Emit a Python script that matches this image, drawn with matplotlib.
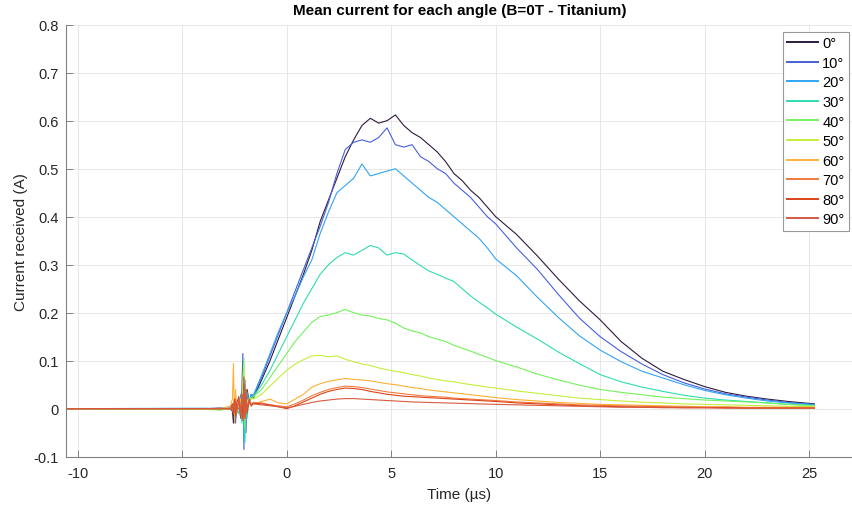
import numpy as np
import matplotlib.pyplot as plt

plt.rcParams['font.family'] = ['Liberation Sans', 'DejaVu Sans']
plt.rcParams['axes.unicode_minus'] = False

# time axis (µs), shared by every angle
t_us = [-10.58, -3.9, -3.2, -2.7,
        -2.6, -2.55, -2.5, -2.45, -2.4, -2.3, -2.2, -2.15, -2.1, -2.05, -2.0, -1.95, -1.9, -1.8, -1.7, -1.6,
        -1.2, -0.8, -0.4, 0.0, 0.4, 0.8, 1.2, 1.6, 2.0, 2.4, 2.8, 3.2, 3.6, 4.0, 4.4, 4.8, 5.2, 5.6, 6.0,
        6.4, 6.8, 7.2, 7.6, 8.0, 8.4, 8.8, 9.2, 9.6, 10.0,
        11, 12, 13, 14, 15, 16, 17, 18, 19, 20, 21, 22, 23, 24, 25.25]

angles = ['0°', '10°', '20°', '30°', '40°', '50°', '60°', '70°', '80°', '90°']
colors = ['#2f1a3d', '#4660dc', '#32a4f4', '#2fdcb0', '#74f25c',
          '#c4ee3c', '#fbb134', '#f07a3c', '#dd4318', '#d65a40']

# mean current (A)
cur_0 = [0.0, 0.0, 0.001, 0.0,
         -0.005, -0.03, 0.01, -0.02, 0.005, 0.0, 0.02, -0.01, 0.05, -0.04, 0.03, -0.01, 0.04, 0.015, 0.025, 0.022,
         0.06, 0.10, 0.145, 0.19, 0.235, 0.28, 0.33, 0.39, 0.435, 0.48, 0.525, 0.56, 0.59, 0.605, 0.595, 0.60, 0.612, 0.59, 0.575,
         0.565, 0.55, 0.535, 0.515, 0.49, 0.475, 0.455, 0.44, 0.42, 0.40,
         0.363, 0.318, 0.27, 0.225, 0.185, 0.14, 0.105, 0.078, 0.061, 0.046, 0.034, 0.026, 0.02, 0.015, 0.01]
cur_10 = [0.0, 0.0, 0.001, 0.0,
          0.005, -0.01, 0.02, -0.03, 0.01, 0.005, -0.02, 0.04, 0.115, -0.085, 0.06, -0.05, 0.03, 0.01, 0.03, 0.025,
          0.065, 0.11, 0.155, 0.2, 0.245, 0.29, 0.335, 0.38, 0.43, 0.49, 0.54, 0.555, 0.56, 0.555, 0.565, 0.585, 0.55, 0.545, 0.55,
          0.525, 0.515, 0.5, 0.49, 0.47, 0.455, 0.44, 0.42, 0.40, 0.385,
          0.335, 0.29, 0.238, 0.189, 0.15, 0.119, 0.093, 0.071, 0.054, 0.041, 0.031, 0.024, 0.018, 0.013, 0.009]
cur_20 = [0.0, 0.001, 0.0, 0.002,
          0.0, 0.01, -0.01, 0.02, -0.01, 0.01, 0.03, -0.02, 0.07, -0.06, 0.04, -0.03, 0.035, 0.015, 0.03, 0.028,
          0.07, 0.115, 0.16, 0.2, 0.235, 0.275, 0.31, 0.365, 0.41, 0.45, 0.465, 0.48, 0.51, 0.485, 0.49, 0.495, 0.50, 0.485, 0.47,
          0.455, 0.44, 0.43, 0.415, 0.40, 0.385, 0.37, 0.355, 0.335, 0.312,
          0.277, 0.232, 0.19, 0.152, 0.122, 0.098, 0.078, 0.064, 0.05, 0.038, 0.029, 0.022, 0.016, 0.012, 0.008]
cur_30 = [0.0, 0.0, -0.002, 0.0,
          0.0, 0.005, -0.01, 0.01, 0.0, -0.01, 0.02, -0.03, 0.04, -0.02, -0.07, 0.03, -0.02, 0.02, 0.025, 0.025,
          0.05, 0.08, 0.115, 0.15, 0.185, 0.22, 0.25, 0.28, 0.30, 0.315, 0.325, 0.32, 0.33, 0.34, 0.335, 0.32, 0.325, 0.322, 0.31,
          0.298, 0.287, 0.28, 0.272, 0.265, 0.25, 0.235, 0.222, 0.21, 0.197,
          0.17, 0.145, 0.118, 0.094, 0.071, 0.056, 0.045, 0.036, 0.028, 0.022, 0.018, 0.015, 0.012, 0.009, 0.007]
cur_40 = [0.0, -0.001, -0.003, 0.0,
          0.0, 0.005, 0.0, 0.01, -0.005, 0.01, 0.0, 0.02, 0.06, 0.105, -0.04, 0.04, 0.0, 0.02, 0.02, 0.025,
          0.04, 0.065, 0.09, 0.115, 0.14, 0.16, 0.18, 0.192, 0.195, 0.2, 0.207, 0.2, 0.195, 0.193, 0.188, 0.185, 0.178, 0.168, 0.162,
          0.158, 0.15, 0.145, 0.14, 0.132, 0.126, 0.12, 0.113, 0.107, 0.1,
          0.087, 0.072, 0.06, 0.049, 0.04, 0.034, 0.029, 0.024, 0.021, 0.018, 0.016, 0.014, 0.012, 0.009, 0.006]
cur_50 = [0.0, 0.0, 0.0, 0.0,
          0.01, -0.01, 0.02, 0.0, -0.01, 0.01, 0.02, 0.0, 0.03, 0.09, -0.02, 0.03, 0.015, 0.02, 0.022, 0.02,
          0.03, 0.047, 0.064, 0.08, 0.093, 0.102, 0.11, 0.111, 0.108, 0.11, 0.103, 0.098, 0.093, 0.09, 0.085, 0.081, 0.078, 0.075, 0.071,
          0.068, 0.064, 0.061, 0.058, 0.056, 0.053, 0.05, 0.048, 0.045, 0.043,
          0.037, 0.032, 0.027, 0.022, 0.019, 0.016, 0.0135, 0.012, 0.01, 0.009, 0.008, 0.007, 0.006, 0.005, 0.004]
cur_60 = [0.0, 0.0, 0.0, 0.005,
          0.02, 0.094, -0.03, 0.04, 0.0, 0.01, -0.01, 0.02, 0.0, 0.03, -0.01, 0.02, 0.005, 0.01, 0.012, 0.01,
          0.015, 0.02, 0.012, 0.01, 0.02, 0.03, 0.045, 0.052, 0.057, 0.06, 0.063, 0.061, 0.06, 0.058, 0.055, 0.052, 0.05, 0.047, 0.044,
          0.042, 0.039, 0.037, 0.035, 0.033, 0.031, 0.029, 0.027, 0.025, 0.023,
          0.019, 0.016, 0.013, 0.011, 0.009, 0.008, 0.007, 0.006, 0.005, 0.004, 0.004, 0.003, 0.003, 0.003, 0.003]
cur_70 = [0.0, 0.0, 0.0, 0.0,
          0.0, 0.01, -0.01, 0.02, 0.0, 0.01, 0.0, 0.03, -0.02, 0.05, -0.02, 0.02, 0.0, 0.012, 0.01, 0.012,
          0.012, 0.008, 0.006, 0.004, 0.01, 0.018, 0.027, 0.034, 0.04, 0.044, 0.047, 0.046, 0.044, 0.041, 0.038, 0.035, 0.033, 0.031, 0.029,
          0.027, 0.026, 0.025, 0.024, 0.022, 0.021, 0.02, 0.019, 0.018, 0.017,
          0.014, 0.012, 0.01, 0.008, 0.007, 0.006, 0.005, 0.004, 0.004, 0.003, 0.003, 0.002, 0.002, 0.002, 0.002]
cur_80 = [0.0, 0.0, 0.0, 0.0,
          0.01, -0.01, 0.02, -0.015, 0.01, 0.025, -0.02, 0.03, -0.025, 0.066, -0.02, 0.04, -0.01, 0.02, 0.005, 0.012,
          0.01, 0.008, 0.004, 0.0, 0.006, 0.014, 0.022, 0.03, 0.036, 0.04, 0.043, 0.042, 0.04, 0.036, 0.033, 0.03, 0.028, 0.026, 0.025,
          0.024, 0.023, 0.022, 0.021, 0.02, 0.019, 0.018, 0.017, 0.016, 0.015,
          0.012, 0.01, 0.008, 0.006, 0.005, 0.004, 0.003, 0.003, 0.002, 0.002, 0.002, 0.001, 0.001, 0.001, 0.001]
cur_90 = [0.0, 0.0, 0.0, 0.0,
          0.0, 0.01, -0.005, 0.015, -0.01, 0.02, -0.01, 0.025, 0.0, 0.04, -0.015, 0.03, 0.0, 0.015, 0.008, 0.01,
          0.008, 0.006, 0.004, 0.002, 0.005, 0.009, 0.013, 0.016, 0.018, 0.02, 0.021, 0.021, 0.02, 0.019, 0.018, 0.017, 0.016, 0.015, 0.014,
          0.0135, 0.013, 0.0125, 0.012, 0.0115, 0.011, 0.0105, 0.01, 0.0095, 0.009,
          0.008, 0.007, 0.006, 0.005, 0.004, 0.003, 0.003, 0.002, 0.002, 0.002, 0.001, 0.001, 0.001, 0.001, 0.001]

curves = [cur_0, cur_10, cur_20, cur_30, cur_40, cur_50, cur_60, cur_70, cur_80, cur_90]

x_ticks = [-10, -5, 0, 5, 10, 15, 20, 25]
y_ticks = [-0.1, 0, 0.1, 0.2, 0.3, 0.4, 0.5, 0.6, 0.7, 0.8]
y_ticklabels = ['-0.1', '0', '0.1', '0.2', '0.3', '0.4', '0.5', '0.6', '0.7', '0.8']

fig = plt.figure(figsize=(8.53, 5.06), dpi=100)
ax = fig.add_axes([0.077, 0.0955, 0.923, 0.8537])

for cur, lab, col in zip(curves, angles, colors):
    ax.plot(t_us, cur, color=col, lw=0.8, label=lab)

ax.set_xlim(-10.58, 27.1)
ax.set_ylim(-0.1, 0.8)
ax.set_xticks(x_ticks)
ax.set_yticks(y_ticks)
ax.set_yticklabels(y_ticklabels)
ax.grid(True, color='#e3e3e3', lw=0.6)
ax.set_axisbelow(True)
for s in ['top', 'right']:
    ax.spines[s].set_visible(False)
for s in ['left', 'bottom']:
    ax.spines[s].set_color('#808080')
    ax.spines[s].set_linewidth(0.8)
ax.tick_params(direction='in', length=5, width=0.7, color='#808080',
               labelsize=10.5, labelcolor='#262626', pad=5)
ax.tick_params(axis='x', pad=6.5)

ax.set_title('Mean current for each angle (B=0T - Titanium)', fontsize=11, fontweight='bold', pad=8)
ax.set_xlabel('Time (µs)', fontsize=11, color='#262626', labelpad=5)
ax.set_ylabel('Current received (A)', fontsize=11, color='#262626', labelpad=4)

leg = ax.legend(loc='upper right', bbox_to_anchor=(849 / 853, 1 - 33 / 506), bbox_transform=fig.transFigure,
                borderaxespad=0, fontsize=10.5, handlelength=2.1, handletextpad=0.3, labelspacing=0.38,
                borderpad=0.3, fancybox=False, framealpha=1)
leg.get_frame().set_edgecolor('#999999')
leg.get_frame().set_linewidth(0.8)
for h in leg.get_lines():
    h.set_linewidth(1.4)

fig.savefig('out.png', dpi=100)
